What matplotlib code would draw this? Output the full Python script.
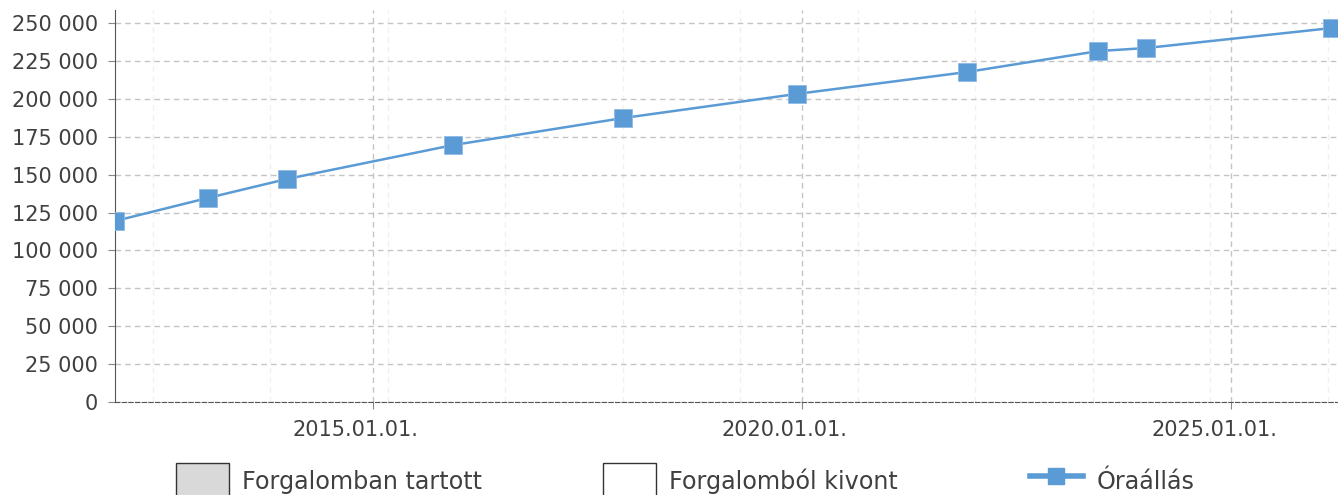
import matplotlib
matplotlib.use("Agg")
import matplotlib.pyplot as plt
import matplotlib.dates as mdates
import matplotlib.transforms as mtransforms
from matplotlib.patches import Patch
from matplotlib.lines import Line2D
from matplotlib.ticker import FuncFormatter, MultipleLocator
import pandas as pd

# meter readings (Óraállás)
dates = pd.to_datetime([
    "2012-01-01", "2013-01-30", "2014-01-01", "2015-12-10", "2017-12-01",
    "2019-12-10", "2021-12-05", "2023-06-15", "2024-01-05", "2026-03-05",
])
readings = [119400, 134600, 147100, 169500, 187300,
            203200, 217700, 231500, 233500, 246700]

legend_labels = ["Forgalomban tartott", "Forgalomból kivont", "Óraállás"]

BLUE = "#5b9bd5"
TEXT = "#404040"
GRID = "#c4c4c4"

plt.rcParams["font.family"] = ["DejaVu Sans"]

fig = plt.figure(figsize=(13.38, 4.95), dpi=100)
ax = fig.add_axes([115 / 1338, 1 - 402 / 495, 1 - 115 / 1338, (402 - 10) / 495])

ax.plot(dates, readings, color=BLUE, linewidth=1.8, marker="s", markersize=13,
        markeredgecolor="#8fbbe6", markeredgewidth=0.6, zorder=3)

ax.set_xlim(pd.Timestamp("2012-01-01"), pd.Timestamp("2026-04-01"))
ax.set_ylim(0, 258600)

ax.yaxis.set_major_locator(MultipleLocator(25000))
ax.yaxis.set_major_formatter(FuncFormatter(lambda v, p: f"{int(v):,}".replace(",", " ")))
ax.xaxis.set_major_locator(mdates.YearLocator(5))
ax.xaxis.set_major_formatter(mdates.DateFormatter("%Y.%m.%d."))
ax.xaxis.set_minor_locator(MultipleLocator(500))

ax.grid(axis="y", which="major", color=GRID, linestyle=(0, (4, 3)), linewidth=1)
ax.grid(axis="x", which="major", color=GRID, linestyle=(0, (4, 3)), linewidth=1)
ax.grid(axis="x", which="minor", color="#f0f0f0", linestyle=(0, (4, 3)), linewidth=1)
ax.set_axisbelow(True)

for s in ["top", "right"]:
    ax.spines[s].set_visible(False)
ax.spines["left"].set_color("#555555")
ax.spines["bottom"].set_color("#555555")
ax.spines["bottom"].set_linestyle((0, (4, 2)))

ax.tick_params(axis="y", colors="#888888", labelcolor=TEXT, labelsize=15, length=5, pad=7)
ax.tick_params(axis="x", which="major", colors="#888888", labelcolor=TEXT, labelsize=15,
               length=5, pad=8)
ax.tick_params(axis="x", which="minor", length=0)

offset = mtransforms.ScaledTranslation(-17 / 100, 0, fig.dpi_scale_trans)
for lbl in ax.get_xticklabels():
    lbl.set_transform(lbl.get_transform() + offset)

handles = [
    Patch(facecolor="#d9d9d9", edgecolor="#333333", linewidth=1),
    Patch(facecolor="white", edgecolor="#333333", linewidth=1),
    Line2D([0], [0], color=BLUE, linewidth=4, marker="s", markersize=11.5),
]
lefts = [176, 603, 1030]
for h, lab, x in zip(handles, legend_labels, lefts):
    fig.legend(handles=[h], labels=[lab], loc="upper left",
               bbox_to_anchor=(x / 1338, 1 - 463 / 495), frameon=False,
               borderpad=0, borderaxespad=0, fontsize=17.2, labelcolor=TEXT,
               handlelength=2.2, handleheight=1.95, handletextpad=0.58)

fig.savefig("out.png", dpi=100)
